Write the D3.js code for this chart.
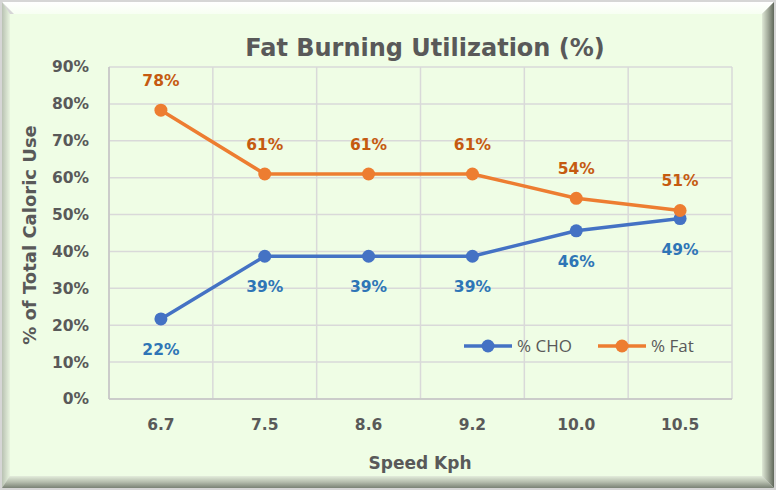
<!DOCTYPE html>
<html><head><meta charset="utf-8">
<script src="https://cdn.jsdelivr.net/npm/d3@7"></script>
<style>body{margin:0;background:#fff}svg{display:block}</style>
</head><body>
<script>
const categories = ["6.7","7.5","8.6","9.2","10.0","10.5"];
const choValues = [21.7, 38.7, 38.7, 38.7, 45.6, 48.9];
const fatValues = [78.3, 61.0, 61.0, 61.0, 54.4, 51.1];
const yTicks = [0,10,20,30,40,50,60,70,80,90];
const seriesNames = ["% CHO", "% Fat"];

const W = 776, H = 490;
const svg = d3.select("body").append("svg").attr("width", W).attr("height", H);
const defs = svg.append("defs");
function lg(id, x1,y1,x2,y2, stops){
  const g = defs.append("linearGradient").attr("id",id).attr("x1",x1).attr("y1",y1).attr("x2",x2).attr("y2",y2);
  stops.forEach(s=>g.append("stop").attr("offset",s[0]).attr("stop-color",s[1]));
}
lg("gTop",0,0,0,1,[[0,"#ffffff"],[1,"#f7fff2"]]);
lg("gLeft",0,0,1,0,[[0,"#b9c2b3"],[1,"#e9f5e0"]]);
lg("gRight",0,0,1,0,[[0,"#dfe9d6"],[0.5,"#a3ab9b"],[1,"#5f675a"]]);
lg("gBot",0,0,0,1,[[0,"#e3eddb"],[0.5,"#b5bdad"],[1,"#7a8275"]]);

svg.append("rect").attr("width",W).attr("height",H).attr("fill","#d6d6d6");
const o=2, b=12;
svg.append("polygon").attr("points",`${o},${o} ${W-o},${o} ${W-o-b},${o+b} ${o+b},${o+b}`).attr("fill","url(#gTop)");
svg.append("polygon").attr("points",`${o},${o} ${o+b-4},${o+b} ${o+b-4},${H-o-b} ${o},${H-o}`).attr("fill","url(#gLeft)");
svg.append("polygon").attr("points",`${W-o},${o} ${W-o},${H-o} ${W-o-b},${H-o-b} ${W-o-b},${o+b}`).attr("fill","url(#gRight)");
svg.append("polygon").attr("points",`${o},${H-o} ${o+b-4},${H-o-b} ${W-o-b},${H-o-b} ${W-o},${H-o}`).attr("fill","url(#gBot)");
svg.append("rect").attr("x",o+b-4).attr("y",o+b).attr("width",W-2*o-2*b+4).attr("height",H-2*o-2*b).attr("fill","#effde5");

const pLeft=109, pRight=732, pTop=67, pBottom=399;
const x = d3.scaleBand().domain(categories).range([pLeft,pRight]);
const y = d3.scaleLinear().domain([0,90]).range([pBottom,pTop]);
const font = "'DejaVu Sans', Verdana, sans-serif";

const g = svg.append("g");
g.selectAll(".hg").data(yTicks).join("line")
  .attr("x1",pLeft).attr("x2",pRight).attr("y1",d=>y(d)).attr("y2",d=>y(d))
  .attr("stroke","#d9d9d9").attr("stroke-width",1.5);
const bounds = categories.map(c=>x(c)).concat([pRight]);
g.selectAll(".vg").data(bounds).join("line")
  .attr("x1",d=>d).attr("x2",d=>d).attr("y1",pTop).attr("y2",pBottom)
  .attr("stroke","#d9d9d9").attr("stroke-width",1.5);
svg.append("line").attr("x1",pLeft).attr("x2",pLeft).attr("y1",pTop).attr("y2",pBottom).attr("stroke","#c4c4c4").attr("stroke-width",1.5);
svg.append("line").attr("x1",pLeft).attr("x2",pRight).attr("y1",pBottom).attr("y2",pBottom).attr("stroke","#c4c4c4").attr("stroke-width",1.5);

const yAxis = d3.axisLeft(y).tickValues(yTicks).tickFormat(d=>d+"%").tickSize(0).tickPadding(20);
const ya = svg.append("g").attr("transform",`translate(${pLeft},0)`).call(yAxis);
ya.select(".domain").remove();
ya.selectAll("text").attr("font-family",font).attr("font-weight","bold").attr("font-size","15.5px").attr("fill","#595959");
const xAxis = d3.axisBottom(x).tickSize(0).tickPadding(20);
const xa = svg.append("g").attr("transform",`translate(0,${pBottom})`).call(xAxis);
xa.select(".domain").remove();
xa.selectAll("text").attr("font-family",font).attr("font-weight","bold").attr("font-size","15.5px").attr("fill","#595959");

svg.append("text").attr("x",425).attr("y",56).attr("text-anchor","middle").attr("font-family",font).attr("font-weight","bold").attr("font-size","24px").attr("fill","#595959").text("Fat Burning Utilization (%)");
svg.append("text").attr("x",420).attr("y",469).attr("text-anchor","middle").attr("font-family",font).attr("font-weight","bold").attr("font-size","17px").attr("fill","#595959").text("Speed Kph");
svg.append("text").attr("transform","translate(36,235) rotate(-90)").attr("text-anchor","middle").attr("font-family",font).attr("font-weight","bold").attr("font-size","18px").attr("fill","#595959").text("% of Total Caloric Use");

const cx = c => x(c) + x.bandwidth()/2;
const series = [
  {name:seriesNames[0], values:choValues, color:"#4472c4", lab:"#2e75b6", dy:36},
  {name:seriesNames[1], values:fatValues, color:"#ed7d31", lab:"#c55a11", dy:-24}
];
const line = d3.line().x((d,i)=>cx(categories[i])).y(d=>y(d));
series.forEach(s=>{
  svg.append("path").attr("d",line(s.values)).attr("fill","none").attr("stroke",s.color).attr("stroke-width",3.5).attr("stroke-linejoin","round").attr("stroke-linecap","round");
  svg.selectAll(null).data(s.values).join("circle").attr("cx",(d,i)=>cx(categories[i])).attr("cy",d=>y(d)).attr("r",6.5).attr("fill",s.color);
  svg.selectAll(null).data(s.values).join("text").attr("x",(d,i)=>cx(categories[i])).attr("y",d=>y(d)+s.dy)
    .attr("text-anchor","middle").attr("font-family",font).attr("font-weight","bold").attr("font-size","15.5px").attr("fill",s.lab)
    .text(d=>Math.round(d)+"%");
});

const legX = [464, 598];
series.forEach((s,i)=>{
  const lx = legX[i], ly = 346;
  svg.append("line").attr("x1",lx).attr("x2",lx+48).attr("y1",ly).attr("y2",ly).attr("stroke",s.color).attr("stroke-width",3.5);
  svg.append("circle").attr("cx",lx+24).attr("cy",ly).attr("r",6.5).attr("fill",s.color);
  svg.append("text").attr("x",lx+53).attr("y",ly+6).attr("font-family","'Open Sans', 'Noto Sans', sans-serif").attr("font-size","17px").attr("fill","#595959").text(s.name);
});
</script>
</body></html>
